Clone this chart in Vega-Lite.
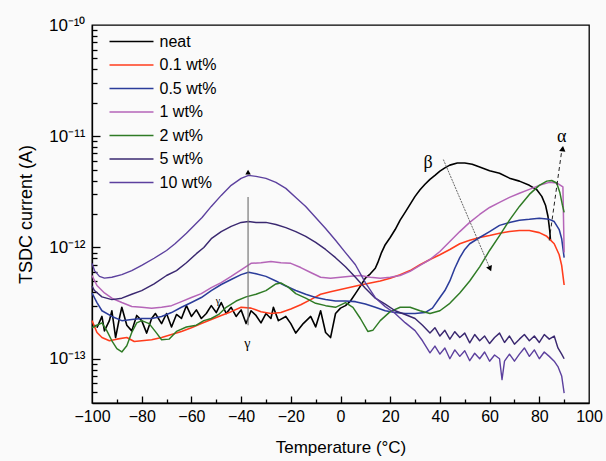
{
"$schema":"https://vega.github.io/schema/vega-lite/v6.json",
"width":497,"height":378,
"autosize":{"type":"none"},
"padding":{"left":92,"top":25,"right":17,"bottom":58},
"background":"#fafafa",
"config":{"view":{"stroke":"#000","strokeWidth":1.3},"font":"Liberation Sans","axis":{"grid":false,"domainColor":"#000","tickColor":"#000","labelColor":"#000","titleColor":"#000","labelFont":"Liberation Sans","titleFont":"Liberation Sans"}},
"resolve":{"axis":{"x":"independent","y":"independent"}},
"datasets":{
"curves":[
{"s":"neat","t":-98,"v":1.9e-13},{"s":"neat","t":-96,"v":2.4e-13},{"s":"neat","t":-95,"v":1.78e-13},{"s":"neat","t":-93,"v":2.2e-13},{"s":"neat","t":-92,"v":2.7e-13},{"s":"neat","t":-90.5,"v":1.55e-13},{"s":"neat","t":-89,"v":2.3e-13},{"s":"neat","t":-88,"v":2.9e-13},{"s":"neat","t":-86,"v":2.0e-13},{"s":"neat","t":-84,"v":1.78e-13},{"s":"neat","t":-82,"v":2.45e-13},{"s":"neat","t":-80,"v":2.2e-13},{"s":"neat","t":-78,"v":1.7e-13},{"s":"neat","t":-76,"v":2.3e-13},{"s":"neat","t":-74.5,"v":2.55e-13},{"s":"neat","t":-72,"v":2.07e-13},{"s":"neat","t":-70,"v":2.55e-13},{"s":"neat","t":-68,"v":1.93e-13},{"s":"neat","t":-66,"v":2.5e-13},{"s":"neat","t":-64,"v":2.3e-13},{"s":"neat","t":-62,"v":3.0e-13},{"s":"neat","t":-60,"v":2.4e-13},{"s":"neat","t":-58,"v":2.75e-13},{"s":"neat","t":-56,"v":2.3e-13},{"s":"neat","t":-54,"v":2.55e-13},{"s":"neat","t":-52,"v":3.0e-13},{"s":"neat","t":-50,"v":2.6e-13},{"s":"neat","t":-48,"v":3.2e-13},{"s":"neat","t":-46,"v":2.55e-13},{"s":"neat","t":-44,"v":2.9e-13},{"s":"neat","t":-42,"v":2.4e-13},{"s":"neat","t":-40,"v":2.75e-13},{"s":"neat","t":-38,"v":2.07e-13},{"s":"neat","t":-36,"v":2.7e-13},{"s":"neat","t":-34,"v":2.45e-13},{"s":"neat","t":-32,"v":2.1e-13},{"s":"neat","t":-30,"v":2.55e-13},{"s":"neat","t":-28,"v":2.3e-13},{"s":"neat","t":-27,"v":2.9e-13},{"s":"neat","t":-25,"v":2.2e-13},{"s":"neat","t":-22,"v":2.4e-13},{"s":"neat","t":-20,"v":2.07e-13},{"s":"neat","t":-18,"v":1.7e-13},{"s":"neat","t":-15,"v":2.07e-13},{"s":"neat","t":-12,"v":2.4e-13},{"s":"neat","t":-10,"v":1.93e-13},{"s":"neat","t":-8,"v":2.7e-13},{"s":"neat","t":-6,"v":1.72e-13},{"s":"neat","t":-4,"v":1.55e-13},{"s":"neat","t":-2,"v":2.55e-13},{"s":"neat","t":0,"v":2.85e-13},{"s":"neat","t":2,"v":3.0e-13},{"s":"neat","t":4,"v":3.3e-13},{"s":"neat","t":6,"v":3.85e-13},{"s":"neat","t":8,"v":4.5e-13},{"s":"neat","t":10,"v":5.3e-13},{"s":"neat","t":12,"v":5.8e-13},{"s":"neat","t":14,"v":6.5e-13},{"s":"neat","t":15,"v":7.3e-13},{"s":"neat","t":16.5,"v":9e-13},{"s":"neat","t":18,"v":1.06e-12},{"s":"neat","t":20,"v":1.23e-12},{"s":"neat","t":22,"v":1.45e-12},{"s":"neat","t":24,"v":1.76e-12},{"s":"neat","t":26,"v":2.07e-12},{"s":"neat","t":28,"v":2.44e-12},{"s":"neat","t":30,"v":2.88e-12},{"s":"neat","t":32,"v":3.3e-12},{"s":"neat","t":34,"v":3.7e-12},{"s":"neat","t":36,"v":4.1e-12},{"s":"neat","t":38,"v":4.45e-12},{"s":"neat","t":40,"v":4.85e-12},{"s":"neat","t":42,"v":5.2e-12},{"s":"neat","t":44,"v":5.5e-12},{"s":"neat","t":47,"v":5.75e-12},{"s":"neat","t":50,"v":5.75e-12},{"s":"neat","t":53,"v":5.6e-12},{"s":"neat","t":56,"v":5.3e-12},{"s":"neat","t":60,"v":4.9e-12},{"s":"neat","t":64,"v":4.65e-12},{"s":"neat","t":68,"v":4.2e-12},{"s":"neat","t":72,"v":3.95e-12},{"s":"neat","t":76,"v":3.62e-12},{"s":"neat","t":79,"v":3.3e-12},{"s":"neat","t":81,"v":2.88e-12},{"s":"neat","t":82.5,"v":2.4e-12},{"s":"neat","t":83.5,"v":1.9e-12},{"s":"neat","t":84.2,"v":1.42e-12},{"s":"neat","t":84.5,"v":1.16e-12},
{"s":"0.1 wt%","t":-100,"v":2.2e-13},{"s":"0.1 wt%","t":-98,"v":1.72e-13},{"s":"0.1 wt%","t":-96,"v":1.55e-13},{"s":"0.1 wt%","t":-93,"v":1.45e-13},{"s":"0.1 wt%","t":-90,"v":1.5e-13},{"s":"0.1 wt%","t":-86,"v":1.55e-13},{"s":"0.1 wt%","t":-83,"v":1.43e-13},{"s":"0.1 wt%","t":-80,"v":1.45e-13},{"s":"0.1 wt%","t":-76,"v":1.48e-13},{"s":"0.1 wt%","t":-72,"v":1.55e-13},{"s":"0.1 wt%","t":-68,"v":1.65e-13},{"s":"0.1 wt%","t":-64,"v":1.76e-13},{"s":"0.1 wt%","t":-60,"v":1.9e-13},{"s":"0.1 wt%","t":-56,"v":2.07e-13},{"s":"0.1 wt%","t":-52,"v":2.25e-13},{"s":"0.1 wt%","t":-48,"v":2.45e-13},{"s":"0.1 wt%","t":-44,"v":2.65e-13},{"s":"0.1 wt%","t":-40,"v":2.9e-13},{"s":"0.1 wt%","t":-36,"v":2.85e-13},{"s":"0.1 wt%","t":-32,"v":2.65e-13},{"s":"0.1 wt%","t":-28,"v":2.55e-13},{"s":"0.1 wt%","t":-24,"v":2.6e-13},{"s":"0.1 wt%","t":-20,"v":2.8e-13},{"s":"0.1 wt%","t":-16,"v":3.06e-13},{"s":"0.1 wt%","t":-12,"v":3.4e-13},{"s":"0.1 wt%","t":-8,"v":3.8e-13},{"s":"0.1 wt%","t":-4,"v":4.0e-13},{"s":"0.1 wt%","t":0,"v":4.2e-13},{"s":"0.1 wt%","t":4,"v":4.4e-13},{"s":"0.1 wt%","t":8,"v":4.6e-13},{"s":"0.1 wt%","t":12,"v":4.8e-13},{"s":"0.1 wt%","t":16,"v":5.0e-13},{"s":"0.1 wt%","t":20,"v":5.3e-13},{"s":"0.1 wt%","t":24,"v":5.7e-13},{"s":"0.1 wt%","t":28,"v":6.2e-13},{"s":"0.1 wt%","t":32,"v":7.0e-13},{"s":"0.1 wt%","t":36,"v":7.8e-13},{"s":"0.1 wt%","t":40,"v":8.6e-13},{"s":"0.1 wt%","t":44,"v":9.6e-13},{"s":"0.1 wt%","t":48,"v":1.08e-12},{"s":"0.1 wt%","t":52,"v":1.16e-12},{"s":"0.1 wt%","t":56,"v":1.23e-12},{"s":"0.1 wt%","t":60,"v":1.28e-12},{"s":"0.1 wt%","t":64,"v":1.34e-12},{"s":"0.1 wt%","t":68,"v":1.39e-12},{"s":"0.1 wt%","t":72,"v":1.42e-12},{"s":"0.1 wt%","t":76,"v":1.42e-12},{"s":"0.1 wt%","t":80,"v":1.36e-12},{"s":"0.1 wt%","t":83,"v":1.26e-12},{"s":"0.1 wt%","t":86,"v":1.08e-12},{"s":"0.1 wt%","t":88,"v":8.6e-13},{"s":"0.1 wt%","t":89,"v":6.9e-13},{"s":"0.1 wt%","t":90,"v":4.6e-13},
{"s":"0.5 wt%","t":-100,"v":3.9e-13},{"s":"0.5 wt%","t":-98,"v":3.2e-13},{"s":"0.5 wt%","t":-96,"v":2.7e-13},{"s":"0.5 wt%","t":-92,"v":2.4e-13},{"s":"0.5 wt%","t":-88,"v":2.2e-13},{"s":"0.5 wt%","t":-84,"v":2.25e-13},{"s":"0.5 wt%","t":-80,"v":2.3e-13},{"s":"0.5 wt%","t":-76,"v":2.3e-13},{"s":"0.5 wt%","t":-72,"v":2.4e-13},{"s":"0.5 wt%","t":-68,"v":2.6e-13},{"s":"0.5 wt%","t":-64,"v":2.9e-13},{"s":"0.5 wt%","t":-60,"v":3.2e-13},{"s":"0.5 wt%","t":-56,"v":3.55e-13},{"s":"0.5 wt%","t":-52,"v":4.1e-13},{"s":"0.5 wt%","t":-48,"v":4.65e-13},{"s":"0.5 wt%","t":-44,"v":5.15e-13},{"s":"0.5 wt%","t":-40,"v":5.7e-13},{"s":"0.5 wt%","t":-37,"v":6.0e-13},{"s":"0.5 wt%","t":-34,"v":5.8e-13},{"s":"0.5 wt%","t":-30,"v":5.5e-13},{"s":"0.5 wt%","t":-26,"v":5.0e-13},{"s":"0.5 wt%","t":-22,"v":4.5e-13},{"s":"0.5 wt%","t":-18,"v":4.1e-13},{"s":"0.5 wt%","t":-14,"v":3.8e-13},{"s":"0.5 wt%","t":-10,"v":3.55e-13},{"s":"0.5 wt%","t":-6,"v":3.4e-13},{"s":"0.5 wt%","t":-2,"v":3.3e-13},{"s":"0.5 wt%","t":2,"v":3.3e-13},{"s":"0.5 wt%","t":6,"v":3.26e-13},{"s":"0.5 wt%","t":10,"v":3.1e-13},{"s":"0.5 wt%","t":14,"v":2.9e-13},{"s":"0.5 wt%","t":18,"v":2.7e-13},{"s":"0.5 wt%","t":22,"v":2.6e-13},{"s":"0.5 wt%","t":26,"v":2.55e-13},{"s":"0.5 wt%","t":30,"v":2.55e-13},{"s":"0.5 wt%","t":34,"v":2.6e-13},{"s":"0.5 wt%","t":37,"v":2.85e-13},{"s":"0.5 wt%","t":40,"v":3.55e-13},{"s":"0.5 wt%","t":42,"v":4.1e-13},{"s":"0.5 wt%","t":44,"v":5.0e-13},{"s":"0.5 wt%","t":46,"v":6.5e-13},{"s":"0.5 wt%","t":48,"v":8.1e-13},{"s":"0.5 wt%","t":50,"v":9.6e-13},{"s":"0.5 wt%","t":52,"v":1.08e-12},{"s":"0.5 wt%","t":56,"v":1.23e-12},{"s":"0.5 wt%","t":60,"v":1.39e-12},{"s":"0.5 wt%","t":64,"v":1.58e-12},{"s":"0.5 wt%","t":68,"v":1.68e-12},{"s":"0.5 wt%","t":72,"v":1.76e-12},{"s":"0.5 wt%","t":76,"v":1.79e-12},{"s":"0.5 wt%","t":80,"v":1.83e-12},{"s":"0.5 wt%","t":84,"v":1.79e-12},{"s":"0.5 wt%","t":86,"v":1.71e-12},{"s":"0.5 wt%","t":88,"v":1.45e-12},{"s":"0.5 wt%","t":89,"v":1.2e-12},{"s":"0.5 wt%","t":90,"v":8.1e-13},
{"s":"1 wt%","t":-100,"v":5.6e-13},{"s":"1 wt%","t":-98,"v":4.55e-13},{"s":"1 wt%","t":-95,"v":3.9e-13},{"s":"1 wt%","t":-92,"v":3.5e-13},{"s":"1 wt%","t":-88,"v":3.2e-13},{"s":"1 wt%","t":-84,"v":2.95e-13},{"s":"1 wt%","t":-80,"v":2.9e-13},{"s":"1 wt%","t":-76,"v":2.85e-13},{"s":"1 wt%","t":-72,"v":2.9e-13},{"s":"1 wt%","t":-68,"v":3.0e-13},{"s":"1 wt%","t":-64,"v":3.26e-13},{"s":"1 wt%","t":-60,"v":3.55e-13},{"s":"1 wt%","t":-56,"v":3.85e-13},{"s":"1 wt%","t":-52,"v":4.36e-13},{"s":"1 wt%","t":-48,"v":4.84e-13},{"s":"1 wt%","t":-44,"v":5.5e-13},{"s":"1 wt%","t":-40,"v":6.3e-13},{"s":"1 wt%","t":-36,"v":7.2e-13},{"s":"1 wt%","t":-32,"v":7.3e-13},{"s":"1 wt%","t":-28,"v":7.5e-13},{"s":"1 wt%","t":-24,"v":7.3e-13},{"s":"1 wt%","t":-20,"v":7.2e-13},{"s":"1 wt%","t":-16,"v":6.6e-13},{"s":"1 wt%","t":-12,"v":5.96e-13},{"s":"1 wt%","t":-8,"v":5.4e-13},{"s":"1 wt%","t":-4,"v":5.3e-13},{"s":"1 wt%","t":0,"v":5.4e-13},{"s":"1 wt%","t":4,"v":5.5e-13},{"s":"1 wt%","t":8,"v":5.6e-13},{"s":"1 wt%","t":12,"v":5.4e-13},{"s":"1 wt%","t":16,"v":5.3e-13},{"s":"1 wt%","t":20,"v":5.4e-13},{"s":"1 wt%","t":24,"v":5.6e-13},{"s":"1 wt%","t":28,"v":6.1e-13},{"s":"1 wt%","t":32,"v":6.9e-13},{"s":"1 wt%","t":36,"v":7.8e-13},{"s":"1 wt%","t":40,"v":9.2e-13},{"s":"1 wt%","t":44,"v":1.13e-12},{"s":"1 wt%","t":48,"v":1.39e-12},{"s":"1 wt%","t":52,"v":1.68e-12},{"s":"1 wt%","t":56,"v":1.98e-12},{"s":"1 wt%","t":60,"v":2.29e-12},{"s":"1 wt%","t":64,"v":2.54e-12},{"s":"1 wt%","t":68,"v":2.82e-12},{"s":"1 wt%","t":72,"v":3.07e-12},{"s":"1 wt%","t":76,"v":3.33e-12},{"s":"1 wt%","t":80,"v":3.62e-12},{"s":"1 wt%","t":84,"v":3.85e-12},{"s":"1 wt%","t":87,"v":3.8e-12},{"s":"1 wt%","t":89.5,"v":3.5e-12},{"s":"1 wt%","t":90,"v":9e-13},
{"s":"2 wt%","t":-100,"v":1.9e-13},{"s":"2 wt%","t":-98,"v":2.0e-13},{"s":"2 wt%","t":-96,"v":2.1e-13},{"s":"2 wt%","t":-94,"v":1.78e-13},{"s":"2 wt%","t":-92,"v":1.45e-13},{"s":"2 wt%","t":-90,"v":1.23e-13},{"s":"2 wt%","t":-88,"v":1.15e-13},{"s":"2 wt%","t":-86,"v":1.31e-13},{"s":"2 wt%","t":-84,"v":1.72e-13},{"s":"2 wt%","t":-82,"v":2.1e-13},{"s":"2 wt%","t":-80,"v":2.2e-13},{"s":"2 wt%","t":-77,"v":2.07e-13},{"s":"2 wt%","t":-74,"v":1.7e-13},{"s":"2 wt%","t":-72,"v":1.48e-13},{"s":"2 wt%","t":-69,"v":1.5e-13},{"s":"2 wt%","t":-66,"v":1.76e-13},{"s":"2 wt%","t":-62,"v":1.93e-13},{"s":"2 wt%","t":-58,"v":2.0e-13},{"s":"2 wt%","t":-55,"v":2.2e-13},{"s":"2 wt%","t":-52,"v":2.3e-13},{"s":"2 wt%","t":-49,"v":2.5e-13},{"s":"2 wt%","t":-46,"v":2.9e-13},{"s":"2 wt%","t":-42,"v":3.3e-13},{"s":"2 wt%","t":-38,"v":3.6e-13},{"s":"2 wt%","t":-34,"v":3.8e-13},{"s":"2 wt%","t":-30,"v":4.1e-13},{"s":"2 wt%","t":-26,"v":4.7e-13},{"s":"2 wt%","t":-24,"v":4.8e-13},{"s":"2 wt%","t":-21,"v":4.4e-13},{"s":"2 wt%","t":-18,"v":3.85e-13},{"s":"2 wt%","t":-14,"v":3.5e-13},{"s":"2 wt%","t":-10,"v":3.15e-13},{"s":"2 wt%","t":-6,"v":3.0e-13},{"s":"2 wt%","t":-2,"v":2.9e-13},{"s":"2 wt%","t":2,"v":3.2e-13},{"s":"2 wt%","t":5,"v":2.9e-13},{"s":"2 wt%","t":8,"v":2.3e-13},{"s":"2 wt%","t":11,"v":1.76e-13},{"s":"2 wt%","t":13,"v":1.8e-13},{"s":"2 wt%","t":16,"v":2.2e-13},{"s":"2 wt%","t":20,"v":2.65e-13},{"s":"2 wt%","t":24,"v":2.9e-13},{"s":"2 wt%","t":28,"v":2.9e-13},{"s":"2 wt%","t":32,"v":2.7e-13},{"s":"2 wt%","t":36,"v":2.55e-13},{"s":"2 wt%","t":40,"v":2.7e-13},{"s":"2 wt%","t":44,"v":3.15e-13},{"s":"2 wt%","t":48,"v":3.9e-13},{"s":"2 wt%","t":52,"v":5.0e-13},{"s":"2 wt%","t":56,"v":6.7e-13},{"s":"2 wt%","t":60,"v":9.4e-13},{"s":"2 wt%","t":64,"v":1.28e-12},{"s":"2 wt%","t":68,"v":1.76e-12},{"s":"2 wt%","t":72,"v":2.34e-12},{"s":"2 wt%","t":76,"v":3.0e-12},{"s":"2 wt%","t":80,"v":3.62e-12},{"s":"2 wt%","t":83,"v":3.95e-12},{"s":"2 wt%","t":85,"v":4.0e-12},{"s":"2 wt%","t":87,"v":3.8e-12},{"s":"2 wt%","t":88.3,"v":3.1e-12},{"s":"2 wt%","t":89.3,"v":2.4e-12},{"s":"2 wt%","t":90,"v":2.07e-12},
{"s":"5 wt%","t":-100,"v":4.5e-13},{"s":"5 wt%","t":-99,"v":4.1e-13},{"s":"5 wt%","t":-96,"v":3.6e-13},{"s":"5 wt%","t":-92,"v":3.4e-13},{"s":"5 wt%","t":-88,"v":3.5e-13},{"s":"5 wt%","t":-84,"v":3.8e-13},{"s":"5 wt%","t":-80,"v":4.1e-13},{"s":"5 wt%","t":-75,"v":4.7e-13},{"s":"5 wt%","t":-70,"v":5.6e-13},{"s":"5 wt%","t":-66,"v":6.2e-13},{"s":"5 wt%","t":-62,"v":7.3e-13},{"s":"5 wt%","t":-58,"v":8.8e-13},{"s":"5 wt%","t":-55,"v":1.0e-12},{"s":"5 wt%","t":-52,"v":1.2e-12},{"s":"5 wt%","t":-48,"v":1.39e-12},{"s":"5 wt%","t":-44,"v":1.55e-12},{"s":"5 wt%","t":-40,"v":1.68e-12},{"s":"5 wt%","t":-37,"v":1.71e-12},{"s":"5 wt%","t":-34,"v":1.68e-12},{"s":"5 wt%","t":-30,"v":1.68e-12},{"s":"5 wt%","t":-26,"v":1.61e-12},{"s":"5 wt%","t":-22,"v":1.51e-12},{"s":"5 wt%","t":-18,"v":1.39e-12},{"s":"5 wt%","t":-14,"v":1.26e-12},{"s":"5 wt%","t":-10,"v":1.11e-12},{"s":"5 wt%","t":-6,"v":9.6e-13},{"s":"5 wt%","t":-2,"v":8.1e-13},{"s":"5 wt%","t":2,"v":6.7e-13},{"s":"5 wt%","t":6,"v":5.4e-13},{"s":"5 wt%","t":10,"v":4.3e-13},{"s":"5 wt%","t":14,"v":3.5e-13},{"s":"5 wt%","t":18,"v":3.1e-13},{"s":"5 wt%","t":22,"v":2.7e-13},{"s":"5 wt%","t":26,"v":2.5e-13},{"s":"5 wt%","t":30,"v":2.3e-13},{"s":"5 wt%","t":33,"v":2.0e-13},{"s":"5 wt%","t":36,"v":1.7e-13},{"s":"5 wt%","t":38,"v":1.9e-13},{"s":"5 wt%","t":40,"v":1.6e-13},{"s":"5 wt%","t":42,"v":1.8e-13},{"s":"5 wt%","t":44,"v":1.5e-13},{"s":"5 wt%","t":46,"v":1.75e-13},{"s":"5 wt%","t":48,"v":1.55e-13},{"s":"5 wt%","t":50,"v":1.7e-13},{"s":"5 wt%","t":52,"v":1.39e-13},{"s":"5 wt%","t":54,"v":1.65e-13},{"s":"5 wt%","t":56,"v":1.45e-13},{"s":"5 wt%","t":58,"v":1.6e-13},{"s":"5 wt%","t":60,"v":1.37e-13},{"s":"5 wt%","t":62,"v":1.55e-13},{"s":"5 wt%","t":64,"v":1.7e-13},{"s":"5 wt%","t":66,"v":1.4e-13},{"s":"5 wt%","t":68,"v":1.6e-13},{"s":"5 wt%","t":70,"v":1.35e-13},{"s":"5 wt%","t":72,"v":1.5e-13},{"s":"5 wt%","t":74,"v":1.65e-13},{"s":"5 wt%","t":76,"v":1.45e-13},{"s":"5 wt%","t":78,"v":1.6e-13},{"s":"5 wt%","t":80,"v":1.4e-13},{"s":"5 wt%","t":82,"v":1.65e-13},{"s":"5 wt%","t":84,"v":1.5e-13},{"s":"5 wt%","t":86,"v":1.6e-13},{"s":"5 wt%","t":87.5,"v":1.25e-13},{"s":"5 wt%","t":89,"v":1.1e-13},{"s":"5 wt%","t":90,"v":1.0e-13},
{"s":"10 wt%","t":-100,"v":7.2e-13},{"s":"10 wt%","t":-99,"v":6.2e-13},{"s":"10 wt%","t":-97,"v":5.5e-13},{"s":"10 wt%","t":-95,"v":5.3e-13},{"s":"10 wt%","t":-92,"v":5.4e-13},{"s":"10 wt%","t":-88,"v":5.7e-13},{"s":"10 wt%","t":-84,"v":6.2e-13},{"s":"10 wt%","t":-80,"v":6.9e-13},{"s":"10 wt%","t":-75,"v":8.0e-13},{"s":"10 wt%","t":-70,"v":9.4e-13},{"s":"10 wt%","t":-66.6,"v":1.08e-12},{"s":"10 wt%","t":-62,"v":1.34e-12},{"s":"10 wt%","t":-58,"v":1.65e-12},{"s":"10 wt%","t":-55.7,"v":1.86e-12},{"s":"10 wt%","t":-52,"v":2.34e-12},{"s":"10 wt%","t":-48,"v":2.94e-12},{"s":"10 wt%","t":-44,"v":3.62e-12},{"s":"10 wt%","t":-40,"v":4.18e-12},{"s":"10 wt%","t":-37,"v":4.45e-12},{"s":"10 wt%","t":-34,"v":4.36e-12},{"s":"10 wt%","t":-30,"v":4.18e-12},{"s":"10 wt%","t":-26,"v":3.85e-12},{"s":"10 wt%","t":-22,"v":3.4e-12},{"s":"10 wt%","t":-18,"v":2.82e-12},{"s":"10 wt%","t":-14,"v":2.34e-12},{"s":"10 wt%","t":-10,"v":1.86e-12},{"s":"10 wt%","t":-6,"v":1.48e-12},{"s":"10 wt%","t":-2,"v":1.16e-12},{"s":"10 wt%","t":2,"v":9.0e-13},{"s":"10 wt%","t":6,"v":7.0e-13},{"s":"10 wt%","t":10,"v":4.84e-13},{"s":"10 wt%","t":14,"v":3.54e-13},{"s":"10 wt%","t":18,"v":2.94e-13},{"s":"10 wt%","t":22,"v":2.55e-13},{"s":"10 wt%","t":26,"v":2.11e-13},{"s":"10 wt%","t":30,"v":1.79e-13},{"s":"10 wt%","t":33,"v":1.45e-13},{"s":"10 wt%","t":36,"v":1.13e-13},{"s":"10 wt%","t":38,"v":1.3e-13},{"s":"10 wt%","t":40,"v":1.1e-13},{"s":"10 wt%","t":42,"v":1.25e-13},{"s":"10 wt%","t":44,"v":1.0e-13},{"s":"10 wt%","t":46,"v":1.2e-13},{"s":"10 wt%","t":48,"v":1.05e-13},{"s":"10 wt%","t":50,"v":1.18e-13},{"s":"10 wt%","t":52,"v":9.6e-14},{"s":"10 wt%","t":54,"v":1.12e-13},{"s":"10 wt%","t":56,"v":1.0e-13},{"s":"10 wt%","t":58,"v":1.15e-13},{"s":"10 wt%","t":60,"v":9.5e-14},{"s":"10 wt%","t":62,"v":1.08e-13},{"s":"10 wt%","t":64,"v":1.0e-13},{"s":"10 wt%","t":65,"v":6.5e-14},{"s":"10 wt%","t":66,"v":9.5e-14},{"s":"10 wt%","t":68,"v":1.1e-13},{"s":"10 wt%","t":70,"v":9.5e-14},{"s":"10 wt%","t":72,"v":1.1e-13},{"s":"10 wt%","t":74,"v":1.25e-13},{"s":"10 wt%","t":76,"v":1.05e-13},{"s":"10 wt%","t":78,"v":1.2e-13},{"s":"10 wt%","t":80,"v":1.0e-13},{"s":"10 wt%","t":82,"v":1.15e-13},{"s":"10 wt%","t":84,"v":1.05e-13},{"s":"10 wt%","t":86,"v":9.5e-14},{"s":"10 wt%","t":87.5,"v":8.5e-14},{"s":"10 wt%","t":89,"v":7.0e-14},{"s":"10 wt%","t":90,"v":4.9e-14}
]},
"layer":[
{"data":{"name":"curves"},
 "mark":{"type":"line","strokeJoin":"round"},
 "encoding":{
  "x":{"field":"t","type":"quantitative","scale":{"domain":[-100,100],"nice":false,"zero":false},
   "axis":{"orient":"bottom","values":[-100,-80,-60,-40,-20,0,20,40,60,80,100],"ticks":false,"tickSize":0,"domainWidth":1.3,"labelPadding":5,"labelFontSize":16,"labelFlush":false,"labelOverlap":false,"title":"Temperature (°C)","titleFontSize":17,"titleFontWeight":"normal","titleY":36}},
  "y":{"field":"v","type":"quantitative","scale":{"type":"log","domain":[4e-14,1e-10],"nice":false},
   "axis":{"orient":"left","values":[1e-13,1e-12,1e-11,1e-10],"ticks":false,"tickSize":0,"domainWidth":1.3,"labelPadding":7,"labelFontSize":17,"labelOverlap":false,"labelExpr":"datum.value > 5e-11 ? '10⁻¹⁰' : datum.value > 5e-12 ? '10⁻¹¹' : datum.value > 5e-13 ? '10⁻¹²' : '10⁻¹³'","title":"TSDC current (A)","titleFontSize":18,"titleFontWeight":"normal","titleX":-57,"titleY":189}},
  "color":{"field":"s","type":"nominal","scale":{"domain":["neat","0.1 wt%","0.5 wt%","1 wt%","2 wt%","5 wt%","10 wt%"],"range":["#000000","#ff3c1c","#2b3c9a","#b565b8","#2f7b25","#3a2870","#5c409e"]},
   "legend":{"orient":"none","legendX":31,"legendY":8,"title":null,"symbolType":"M-3,0H3","symbolSize":215,"symbolStrokeWidth":2,"labelFontSize":16,"labelFont":"Liberation Sans","labelColor":"#000","rowPadding":6.5,"labelOffset":19.5,"padding":0}},
  "strokeWidth":{"field":"s","type":"nominal","scale":{"domain":["neat","0.1 wt%","0.5 wt%","1 wt%","2 wt%","5 wt%","10 wt%"],"range":[1.6,1.4,1.4,3,1.6,1.4,1.6]},"legend":null}
 }},
{"data":{"values":[{"label":"β","t":35.2,"v":5.7e-12},{"label":"α","t":89,"v":9.8e-12}]},
 "mark":{"type":"text","font":"Liberation Serif","fontSize":18,"color":"#000"},
 "encoding":{
  "x":{"field":"t","type":"quantitative","scale":{"domain":[-100,100],"nice":false,"zero":false},
   "axis":{"orient":"top","offset":-378,"values":[-80,-60,-40,-20,0,20,40,60,80],"tickSize":7,"tickWidth":1.3,"labels":false,"domain":false,"title":null}},
  "y":{"field":"v","type":"quantitative","scale":{"type":"log","domain":[4e-14,1e-10],"nice":false},
   "axis":{"orient":"right","offset":-497,"values":[1e-13,1e-12,1e-11],"tickSize":8,"tickWidth":1.3,"labels":false,"domain":false,"title":null}},
  "text":{"field":"label"}
 }},
{"data":{"values":[{"label":"γ","t":-37.5,"v":1.37e-13}]},
 "mark":{"type":"text","font":"Liberation Serif","fontSize":14,"color":"#000"},
 "encoding":{
  "x":{"field":"t","type":"quantitative","scale":{"domain":[-100,100],"nice":false,"zero":false},
   "axis":{"orient":"top","offset":-378,"values":[-90,-70,-50,-30,-10,10,30,50,70,90],"tickSize":4,"tickWidth":1.3,"labels":false,"domain":false,"title":null}},
  "y":{"field":"v","type":"quantitative","scale":{"type":"log","domain":[4e-14,1e-10],"nice":false},
   "axis":{"orient":"right","offset":-497,"values":[5e-14,6e-14,7e-14,8e-14,9e-14,2e-13,3e-13,4e-13,5e-13,6e-13,7e-13,8e-13,9e-13,2e-12,3e-12,4e-12,5e-12,6e-12,7e-12,8e-12,9e-12,2e-11,3e-11,4e-11,5e-11,6e-11,7e-11,8e-11,9e-11],"tickSize":5,"tickWidth":1.3,"labels":false,"domain":false,"title":null}},
  "text":{"field":"label"}
 }},
{"data":{"values":[{"label":"γ","t":-49.3,"v":3.3e-13}]},
 "mark":{"type":"text","font":"Liberation Serif","fontSize":10,"color":"#000"},
 "encoding":{"x":{"field":"t","type":"quantitative","axis":null},"y":{"field":"v","type":"quantitative","axis":null},"text":{"field":"label"}}},
{"data":{"values":[{"t":-37.2,"v":2e-13,"t2":-37.2,"v2":2.85e-12}]},
 "mark":{"type":"rule","color":"#777","strokeWidth":1.2},
 "encoding":{"x":{"field":"t","type":"quantitative","axis":null},"y":{"field":"v","type":"quantitative","axis":null},"x2":{"field":"t2"},"y2":{"field":"v2"}}},
{"data":{"values":[{"t":41.4,"v":6.17e-12,"t2":60.2,"v2":6.43e-13}]},
 "mark":{"type":"rule","color":"#555","strokeWidth":0.9,"strokeDash":[2,1]},
 "encoding":{"x":{"field":"t","type":"quantitative","axis":null},"y":{"field":"v","type":"quantitative","axis":null},"x2":{"field":"t2"},"y2":{"field":"v2"}}},
{"data":{"values":[{"t":84,"v":1.16e-12,"t2":89.2,"v2":7.9e-12}]},
 "mark":{"type":"rule","color":"#222","strokeWidth":1,"strokeDash":[4,3]},
 "encoding":{"x":{"field":"t","type":"quantitative","axis":null},"y":{"field":"v","type":"quantitative","axis":null},"x2":{"field":"t2"},"y2":{"field":"v2"}}},
{"data":{"values":[{"t":-37.2,"v":4.75e-12}]},
 "mark":{"type":"point","shape":"triangle-up","filled":true,"color":"#000","opacity":1,"size":30},
 "encoding":{"x":{"field":"t","type":"quantitative","axis":null},"y":{"field":"v","type":"quantitative","axis":null}}},
{"data":{"values":[{"t":60.2,"v":6.43e-13}]},
 "mark":{"type":"point","shape":"triangle-up","filled":true,"color":"#000","opacity":1,"size":40,"angle":157},
 "encoding":{"x":{"field":"t","type":"quantitative","axis":null},"y":{"field":"v","type":"quantitative","axis":null}}},
{"data":{"values":[{"t":89.4,"v":7.74e-12}]},
 "mark":{"type":"point","shape":"triangle-up","filled":true,"color":"#000","opacity":1,"size":40,"angle":8},
 "encoding":{"x":{"field":"t","type":"quantitative","axis":null},"y":{"field":"v","type":"quantitative","axis":null}}}
]
}
